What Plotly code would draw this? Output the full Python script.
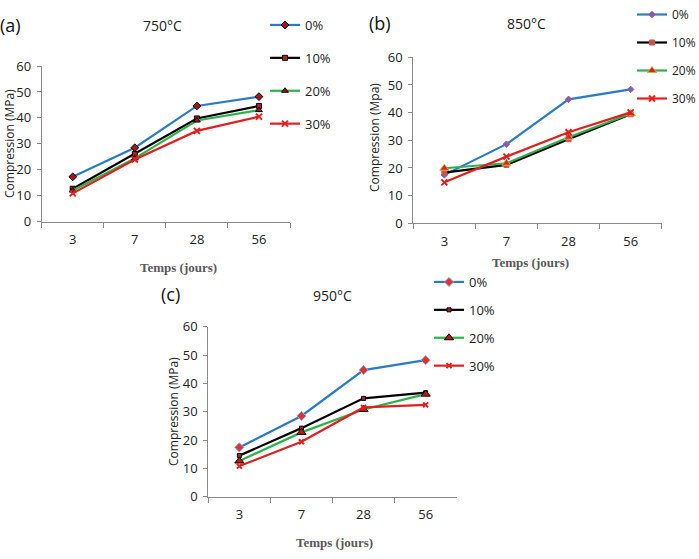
import plotly.graph_objects as go

days = ["3", "7", "28", "56"]
series_names = ["0%", "10%", "20%", "30%"]

vals_750 = {
    "0%": [17.3, 28.5, 44.6, 48.2],
    "10%": [12.7, 26.1, 39.8, 44.6],
    "20%": [12.0, 24.4, 39.0, 43.0],
    "30%": [10.9, 24.0, 35.0, 40.5],
}
vals_850 = {
    "0%": [17.5, 28.6, 44.8, 48.4],
    "10%": [18.3, 21.1, 30.4, 39.4],
    "20%": [19.9, 21.7, 31.1, 39.6],
    "30%": [14.8, 24.1, 32.9, 40.1],
}
vals_950 = {
    "0%": [17.4, 28.5, 44.7, 48.2],
    "10%": [14.5, 24.2, 34.7, 36.7],
    "20%": [12.6, 22.7, 30.8, 36.2],
    "30%": [10.8, 19.4, 31.5, 32.4],
}
panel_titles = ["750°C", "850°C", "950°C"]
panel_letters = ["(a)", "(b)", "(c)"]
y_titles = ["Compression (MPa)", "Compression (Mpa)", "Compression (MPa)"]
x_title = "Temps (jours)"

W, H = 699, 559
line_colors = {"0%": "#2A7BC6", "10%": "#000000", "20%": "#2DB24B", "30%": "#E0201E"}
symbols = {"0%": "diamond", "10%": "square", "20%": "triangle-up", "30%": "x-thin"}

marker_styles = [
    {  # a
        "0%": dict(color="#A01818", line=dict(color="#000000", width=1), size=6),
        "10%": dict(color="#B02020", line=dict(color="#000000", width=1), size=5),
        "20%": dict(color="#A01818", line=dict(color="#000000", width=1), size=6),
        "30%": dict(color="#E0201E", line=dict(color="#E0201E", width=2), size=6),
    },
    {  # b
        "0%": dict(color="#8C5AA6", line=dict(color="#8C5AA6", width=1), size=5),
        "10%": dict(color="#D05050", line=dict(color="#D05050", width=1), size=5),
        "20%": dict(color="#E02020", line=dict(color="#C8B43C", width=1), size=8),
        "30%": dict(color="#E0201E", line=dict(color="#E0201E", width=2), size=6),
    },
    {  # c
        "0%": dict(color="#E03030", line=dict(color="#8FA8DA", width=1), size=7),
        "10%": dict(color="#B02020", line=dict(color="#000000", width=1), size=4),
        "20%": dict(color="#C01818", line=dict(color="#000000", width=1), size=8),
        "30%": dict(color="#E0201E", line=dict(color="#E0201E", width=2), size=5),
    },
]

# pixel geometry of the three plot areas (left, right, top, bottom)
boxes = [(41.7, 290.0, 66.0, 221.7), (413.3, 661.7, 57.3, 223.3), (208.3, 456.7, 326.7, 496.7)]
datasets = [vals_750, vals_850, vals_950]

fig = go.Figure()
legend_keys = ["legend", "legend2", "legend3"]
for i, (data, box) in enumerate(zip(datasets, boxes)):
    xa = "x" if i == 0 else f"x{i+1}"
    ya = "y" if i == 0 else f"y{i+1}"
    for s in series_names:
        fig.add_trace(go.Scatter(
            x=days, y=data[s], name=s, mode="lines+markers",
            line=dict(color=line_colors[s], width=2.2),
            marker=dict(symbol=symbols[s], **marker_styles[i][s]),
            xaxis=xa, yaxis=ya, legend=legend_keys[i],
            legendgroup=f"g{i}{s}",
        ))

axis_font = dict(family="Open Sans", size=13, color="#222222")
layout = dict(
    width=W, height=H, margin=dict(l=0, r=0, t=0, b=0, autoexpand=False),
    paper_bgcolor="white", plot_bgcolor="white", showlegend=True,
)
for i, box in enumerate(boxes):
    l, r, t, b = box
    xk = "xaxis" if i == 0 else f"xaxis{i+1}"
    yk = "yaxis" if i == 0 else f"yaxis{i+1}"
    xa = "x" if i == 0 else f"x{i+1}"
    ya = "y" if i == 0 else f"y{i+1}"
    layout[xk] = dict(
        domain=[l / W, r / W], anchor=ya, type="category", range=[-0.5, 3.5],
        showline=True, linecolor="#8A8A8A", linewidth=1, ticks="outside",
        tickson="boundaries", ticklen=5, tickcolor="#8A8A8A", showgrid=False,
        zeroline=False, tickfont=axis_font, fixedrange=True, ticklabelstandoff=6,
        automargin=False,
    )
    layout[yk] = dict(
        domain=[1 - b / H, 1 - t / H], anchor=xa, range=[0, 60], dtick=10,
        showline=True, linecolor="#8A8A8A", linewidth=1, ticks="outside",
        ticklen=4, tickcolor="#8A8A8A", showgrid=False, zeroline=False,
        tickfont=axis_font, fixedrange=True, ticklabelstandoff=3, automargin=False,
    )

legend_pos = [(265, 10), (632, 0), (429, 267)]
legend_gaps = [13, 9, 8]
legend_sizes = [13, 12, 13]
for i, (lx, ly) in enumerate(legend_pos):
    layout[legend_keys[i]] = dict(
        x=lx / W, y=1 - ly / H, xanchor="left", yanchor="top",
        font=dict(family="Open Sans", size=legend_sizes[i], color="#222222"),
        tracegroupgap=legend_gaps[i], bgcolor="rgba(0,0,0,0)",
        itemwidth=30,
    )

annotations = []
title_pos = [(162, 26), (526, 24), (332, 295)]
letter_pos = [(10, 25), (380, 23), (170, 294)]
ytitle_pos = [(9, 144), (374, 138), (173, 412)]
xtitle_pos = [(178, 267), (530, 262), (334, 542)]
common = dict(xref="paper", yref="paper", showarrow=False, xanchor="center", yanchor="middle")
for i in range(3):
    annotations.append(dict(text=panel_titles[i], x=title_pos[i][0] / W, y=1 - title_pos[i][1] / H,
                            font=dict(family="Open Sans", size=14, color="#222222"), **common))
    annotations.append(dict(text=panel_letters[i], x=letter_pos[i][0] / W, y=1 - letter_pos[i][1] / H,
                            font=dict(family="Open Sans", size=18, color="#111111"), **common))
    annotations.append(dict(text=y_titles[i], x=ytitle_pos[i][0] / W, y=1 - ytitle_pos[i][1] / H,
                            textangle=-90, font=dict(family="Open Sans", size=12, color="#222222"), **common))
    annotations.append(dict(text="<b>" + x_title + "</b>", x=xtitle_pos[i][0] / W, y=1 - xtitle_pos[i][1] / H,
                            font=dict(family="Liberation Serif", size=13, color="#595959"), **common))
layout["annotations"] = annotations
fig.update_layout(**layout)
fig.write_html("out.html")
